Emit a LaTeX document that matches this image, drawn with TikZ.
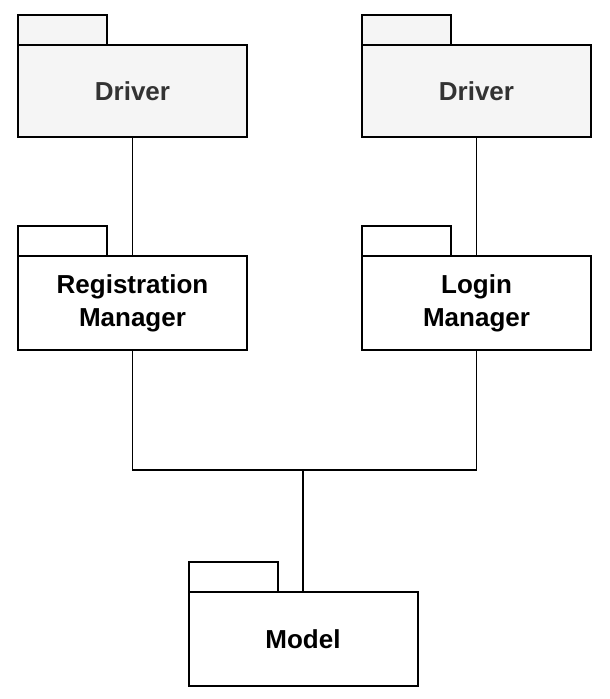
\documentclass[tikz,border=0pt]{standalone}
\usepackage{fontspec}
\setmainfont{Liberation Sans}
\usepackage{tikz}
\usetikzlibrary{positioning, calc}
\definecolor{drivercolor}{RGB}{245,245,245}
\definecolor{drivertext}{RGB}{51,51,51}

\begin{document}
\begin{tikzpicture}[x=1pt, y=1pt,
    pkgbody/.style={draw, line width=2pt, minimum width=229pt, minimum height=92pt, outer sep=0pt,
        fill=white, inner sep=0pt, align=center, font=\fontsize{26}{33}\selectfont\bfseries},
    pkgtab/.style={draw, line width=2pt, minimum width=89pt, minimum height=30pt, outer sep=0pt,
        fill=white, inner sep=0pt, anchor=south west},
    drvfill/.style={fill=drivercolor, text=drivertext},
    link/.style={line width=1.5pt}]

    \useasboundingbox (0,0) rectangle (610,-699);

    % === DRIVERS ===
    \node[pkgbody, drvfill] (drvL) at (132.5,-91) {Driver};
    \node[pkgtab, drvfill] (drvLtab) at (drvL.north west) {};
    \node[pkgbody, drvfill] (drvR) at (476.5,-91) {Driver};
    \node[pkgtab, drvfill] (drvRtab) at (drvR.north west) {};

    % === MANAGERS ===
    \node[pkgbody, minimum height=94pt] (regMgr) at (132.5,-303) {Registration\\Manager};
    \node[pkgtab] (regMgrtab) at (regMgr.north west) {};
    \node[pkgbody, minimum height=94pt] (logMgr) at (476.5,-303) {Login\\Manager};
    \node[pkgtab] (logMgrtab) at (logMgr.north west) {};

    % === MODEL ===
    \node[pkgbody, minimum height=94pt] (model) at (303,-639) {Model};
    \node[pkgtab] (modeltab) at (model.north west) {};

    % Liens
    \draw[link] (drvL.south) -- (regMgr.north);
    \draw[link] (drvR.south) -- (logMgr.north);
    \coordinate (junc) at (303,-470);
    \draw[link] (regMgr.south) |- (junc) -| (logMgr.south);
    \draw[link] (junc) -- (model.north);

\end{tikzpicture}
\end{document}
